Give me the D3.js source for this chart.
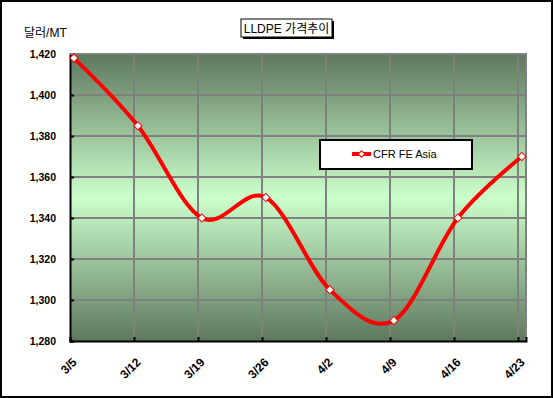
<!DOCTYPE html>
<html><head><meta charset="utf-8">
<script src="https://cdn.jsdelivr.net/npm/d3@7"></script>
<style>body{margin:0;background:#fff}svg{display:block}</style>
</head><body>
<svg id="c" width="553" height="398"></svg>
<script>
const categories = ["3/5","3/12","3/19","3/26","4/2","4/9","4/16","4/23"];
const values = [1418,1385,1340,1350,1305,1290,1340,1370];
const yTicks = [1280,1300,1320,1340,1360,1380,1400,1420];
const seriesName = "CFR FE Asia";
const chartTitle = "LLDPE 가격추이";
const yTitle = "달러/MT";

const svg = d3.select("#c");
const L = 70, R = 526, T = 54, B = 341;
const x = d3.scaleLinear().domain([0, 7.125]).range([L, R]);
const y = d3.scaleLinear().domain([1280, 1420]).range([B, T]);
const ptOff = 0.06;
const latin = "'Liberation Sans', Arial, sans-serif";
const kr = "'Liberation Sans', 'Noto Sans CJK KR', sans-serif";

// outer frame
svg.append("rect").attr("x",1).attr("y",1).attr("width",551).attr("height",396)
  .attr("fill","#fff").attr("stroke","#000").attr("stroke-width",2);

// gradient
const defs = svg.append("defs");
const g = defs.append("linearGradient").attr("id","bg").attr("x1",0).attr("y1",0).attr("x2",0).attr("y2",1);
g.append("stop").attr("offset","0%").attr("stop-color","#5e785e");
g.append("stop").attr("offset","50%").attr("stop-color","#ccffcc");
g.append("stop").attr("offset","100%").attr("stop-color","#5e785e");

svg.append("rect").attr("x",L).attr("y",T).attr("width",R-L).attr("height",B-T).attr("fill","url(#bg)");

// grid
svg.append("g").selectAll("line").data(yTicks.slice(1)).join("line")
  .attr("x1",L).attr("x2",R).attr("y1",d=>y(d)).attr("y2",d=>y(d))
  .attr("stroke","#808080").attr("stroke-width",2);
svg.append("g").selectAll("line").data(d3.range(1,categories.length)).join("line")
  .attr("x1",d=>x(d)).attr("x2",d=>x(d)).attr("y1",T).attr("y2",B)
  .attr("stroke","#808080").attr("stroke-width",2);
// right border
svg.append("line").attr("x1",R).attr("x2",R).attr("y1",T-1).attr("y2",B).attr("stroke","#808080").attr("stroke-width",2);

// axes
const yAxis = d3.axisLeft(y).tickValues(yTicks).tickSize(-4).tickPadding(14).tickFormat(d3.format(","));
const ya = svg.append("g").attr("transform",`translate(${L},0)`).call(yAxis);
ya.select(".domain").attr("stroke","#000").attr("stroke-width",2);
ya.selectAll(".tick line").attr("stroke","#000").attr("stroke-width",2);
ya.selectAll(".tick text").attr("font-family",latin).attr("font-size","10.5px").attr("font-weight","bold").attr("fill","#000");

const xAxis = d3.axisBottom(x).tickValues(d3.range(0,categories.length)).tickSize(-4).tickFormat(i=>categories[i]);
const xa = svg.append("g").attr("transform",`translate(0,${B})`).call(xAxis);
xa.select(".domain").attr("stroke","#000").attr("stroke-width",2);
xa.selectAll(".tick line").attr("stroke","#000").attr("stroke-width",2);
xa.selectAll(".tick text").attr("font-family",latin).attr("font-size","12px").attr("font-weight","bold").attr("fill","#000")
  .attr("text-anchor","end").attr("dy",0).attr("y",0)
  .attr("transform","translate(7,22) rotate(-45)");
// top border
svg.append("line").attr("x1",L).attr("x2",R+1).attr("y1",T).attr("y2",T).attr("stroke","#808080").attr("stroke-width",2);

// line
const pts = values.map((v,i)=>[x(i+ptOff), y(v)]);
svg.append("path").datum(pts).attr("d", d3.line().curve(d3.curveCardinal.tension(0)))
  .attr("fill","none").attr("stroke","#ff0000").attr("stroke-width",4);
svg.append("g").selectAll("path").data(pts).join("path")
  .attr("d", d3.symbol(d3.symbolSquare, 34)())
  .attr("transform", d=>`translate(${d[0]},${d[1]}) rotate(45)`)
  .attr("fill","#fff").attr("stroke","#ff0000").attr("stroke-width",1);

// title
svg.append("rect").attr("x",243).attr("y",21).attr("width",91).attr("height",18).attr("fill","#000");
svg.append("rect").attr("x",241).attr("y",19).attr("width",91).attr("height",18).attr("fill","#fff").attr("stroke","#000").attr("stroke-width",1);
svg.append("text").attr("x",286.5).attr("y",28.5).attr("text-anchor","middle").attr("dominant-baseline","central")
  .attr("font-family",kr).attr("font-size","12px").attr("fill","#000").text(chartTitle);

// y title
svg.append("text").attr("x",24).attr("y",33).attr("dominant-baseline","central")
  .attr("font-family",kr).attr("font-size","12px").attr("fill","#000").text(yTitle);

// legend
svg.append("rect").attr("x",320).attr("y",140).attr("width",152).attr("height",29).attr("fill","#fff").attr("stroke","#000").attr("stroke-width",2);
svg.append("line").attr("x1",352).attr("x2",371).attr("y1",154).attr("y2",154).attr("stroke","#ff0000").attr("stroke-width",4);
svg.append("path").attr("d", d3.symbol(d3.symbolSquare, 22)()).attr("transform","translate(361.5,154) rotate(45)")
  .attr("fill","#fff").attr("stroke","#ff0000").attr("stroke-width",1);
svg.append("text").attr("x",373).attr("y",154).attr("dominant-baseline","central")
  .attr("font-family",latin).attr("font-size","11px").attr("fill","#000").text(seriesName);
</script>
</body></html>
